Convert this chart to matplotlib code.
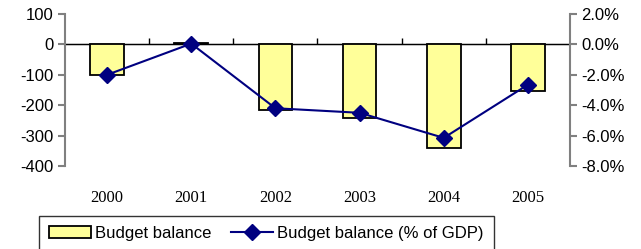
import matplotlib
matplotlib.use("Agg")
from matplotlib import pyplot as plt
from matplotlib.ticker import PercentFormatter, MultipleLocator

plt.rcParams['axes.unicode_minus'] = False
plt.rcParams['font.family'] = 'Liberation Sans'

years = ['2000', '2001', '2002', '2003', '2004', '2005']
balance = [-101, 3, -216, -242, -340, -153]
balance_pct = [-2.0, 0.05, -4.2, -4.5, -6.15, -2.65]

GREY = '#808080'

fig = plt.figure(figsize=(6.41, 2.49), dpi=100)
ax = fig.add_axes([65 / 641, 1 - 166 / 249, 505 / 641, 152 / 249])
ax2 = ax.twinx()

x = list(range(len(years)))
bars = ax.bar(x, balance, width=0.4, color='#FFFF99', edgecolor='black',
              linewidth=1.3, label='Budget balance', zorder=2)
line, = ax2.plot(x, balance_pct, color='#000080', linewidth=1.5, marker='D',
                 markersize=8, label='Budget balance (% of GDP)')

ax.set_xlim(-0.5, len(years) - 0.5)
ax.set_ylim(-400, 100)
ax.yaxis.set_major_locator(MultipleLocator(100))
ax2.set_ylim(-8, 2)
ax2.yaxis.set_major_locator(MultipleLocator(2))
ax2.yaxis.set_major_formatter(PercentFormatter(xmax=100, decimals=1))

for a in (ax, ax2):
    for s in ('top', 'bottom'):
        a.spines[s].set_visible(False)
ax.spines['right'].set_visible(False)
ax2.spines['left'].set_visible(False)
ax.spines['left'].set_color(GREY)
ax2.spines['right'].set_color(GREY)
ax.spines['left'].set_linewidth(1.5)
ax2.spines['right'].set_linewidth(1.5)

ax.tick_params(axis='y', colors=GREY, labelcolor='black', labelsize=12,
               length=5, width=1.5, pad=3)
ax2.tick_params(axis='y', colors=GREY, labelcolor='black', labelsize=12,
                length=5, width=1.5, pad=3)

ax.set_xticks(x)
ax.set_xticklabels(years, family='Liberation Serif', fontsize=12)
ax.tick_params(axis='x', length=0, pad=17)

# zero line with category separators
ax.axhline(0, color='black', linewidth=1, zorder=1)
sec = ax.secondary_xaxis(0.8)
sec.set_xticks([i + 0.5 for i in x[:-1]])
sec.set_xticklabels([])
sec.tick_params(axis='x', direction='out', length=4, width=1, color='black')
sec.spines['bottom'].set_visible(False)

leg = fig.legend([bars, line], [bars.get_label(), line.get_label()],
                 loc='upper left', bbox_to_anchor=(39 / 641, 1 - 216 / 249),
                 ncol=2, fontsize=12, frameon=True, fancybox=False,
                 borderpad=0.6, handlelength=2.5, handletextpad=0.25,
                 columnspacing=1.2, borderaxespad=0)
leg.get_frame().set_edgecolor('black')
leg.get_frame().set_linewidth(1)

fig.savefig('out.png', dpi=100)
